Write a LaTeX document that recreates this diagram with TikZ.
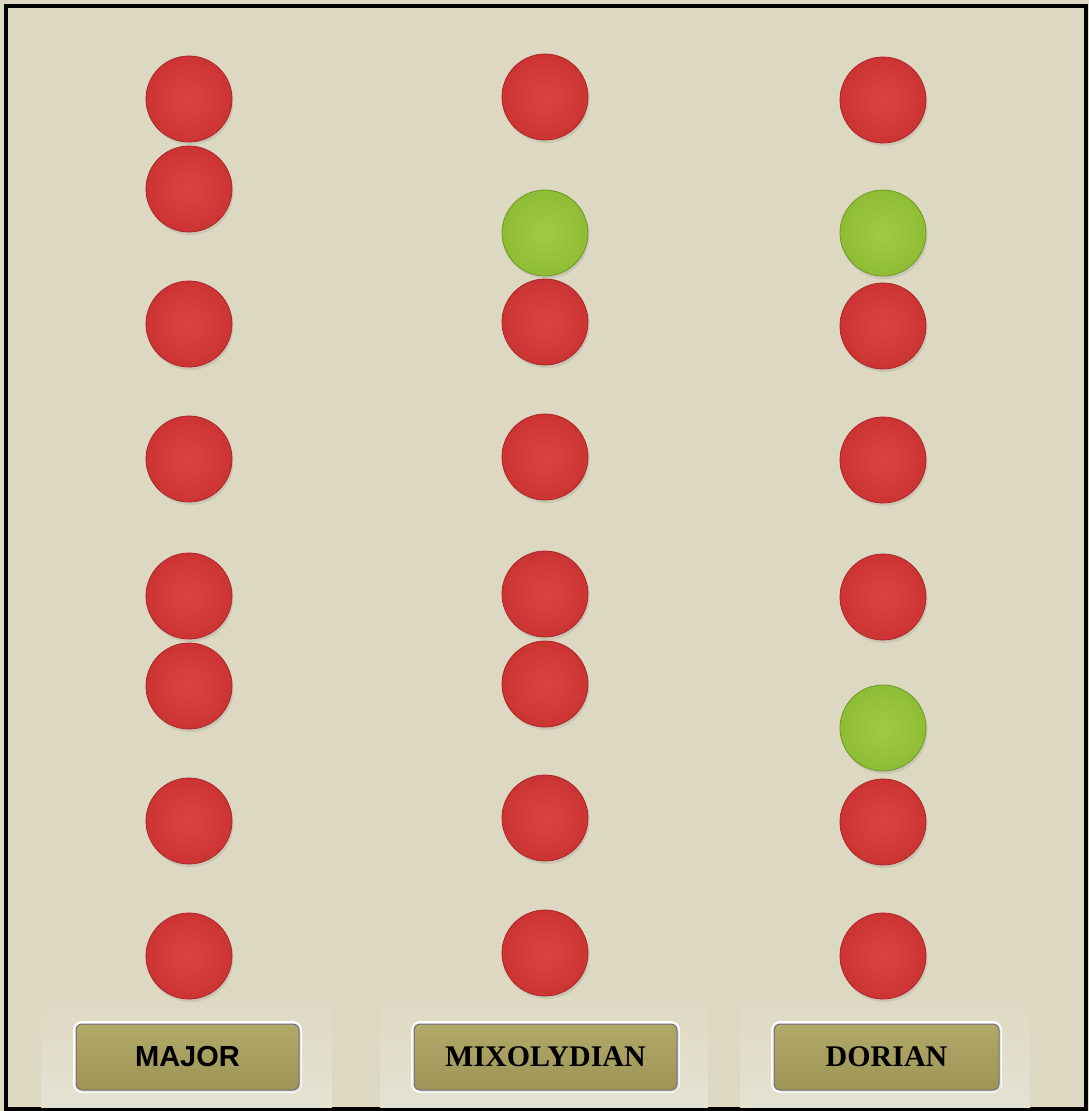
\documentclass[tikz,border=0pt]{standalone}
\usepackage{fontspec}
\newfontfamily\btnsans{Liberation Sans}
\newfontfamily\btnserif{Liberation Serif}
\usetikzlibrary{shadows}
\definecolor{paper}{RGB}{221,216,194}
\definecolor{panel}{RGB}{228,226,210}
\definecolor{redin}{RGB}{218,68,64}
\definecolor{redout}{RGB}{204,52,52}
\definecolor{redrim}{RGB}{168,40,40}
\definecolor{greenin}{RGB}{160,204,66}
\definecolor{greenout}{RGB}{142,188,52}
\definecolor{greenrim}{RGB}{112,152,40}
\definecolor{goldtop}{RGB}{178,168,104}
\definecolor{goldbot}{RGB}{158,148,86}
\definecolor{btnline}{RGB}{110,108,122}
\tikzset{
  ball/.style={circle, minimum size=86pt, inner sep=0pt, line width=0.8pt,
    drop shadow={opacity=0.2, shadow xshift=1.5pt, shadow yshift=-3pt}},
  redball/.style={ball, draw=redrim, inner color=redin, outer color=redout},
  greenball/.style={ball, draw=greenrim, inner color=greenin, outer color=greenout},
  modebtn/.style={rectangle, rounded corners=6pt, minimum height=66pt,
    draw=btnline, line width=1pt, top color=goldtop, bottom color=goldbot,
    preaction={draw=white!92!paper, line width=6pt},
    drop shadow={opacity=0.18, shadow xshift=2pt, shadow yshift=-2pt}}
}

\begin{document}
\begin{tikzpicture}[x=1pt, y=-1pt]
\useasboundingbox (0,0) rectangle (1089,1111);

% background and frame
\fill[paper] (0,0) rectangle (1089,1111);
\draw[line width=4pt] (6,6) rectangle (1086,1109);

% light panels behind the buttons
\shade[top color=paper, bottom color=panel] (41,990) rectangle (332,1107);
\shade[top color=paper, bottom color=panel] (380,990) rectangle (708,1107);
\shade[top color=paper, bottom color=panel] (740,990) rectangle (1030,1107);

% =================== major column ===================
\foreach \yy [count=\k] in {99,189,324,459,596,686,821,956}{
  \node[redball] (maj\k) at (189,\yy) {};
}

% =================== mixolydian column ===================
\foreach \yy/\sty [count=\k] in {97/redball,233/greenball,322/redball,457/redball,
    594/redball,684/redball,818/redball,953/redball}{
  \node[\sty] (mix\k) at (545,\yy) {};
}

% =================== dorian column ===================
\foreach \yy/\sty [count=\k] in {100/redball,233/greenball,326/redball,460/redball,
    597/redball,728/greenball,822/redball,956/redball}{
  \node[\sty] (dor\k) at (883,\yy) {};
}

% mode buttons
\node[modebtn, minimum width=223pt, font=\btnsans\bfseries\fontsize{29}{30}\selectfont]
  (majbtn) at (187.5,1057) {MAJOR};
\node[modebtn, minimum width=263pt, font=\btnserif\bfseries\fontsize{30}{31}\selectfont]
  (mixbtn) at (545.5,1057) {MIXOLYDIAN};
\node[modebtn, minimum width=225pt, font=\btnserif\bfseries\fontsize{30}{31}\selectfont]
  (dorbtn) at (886.5,1057) {DORIAN};

\end{tikzpicture}
\end{document}
